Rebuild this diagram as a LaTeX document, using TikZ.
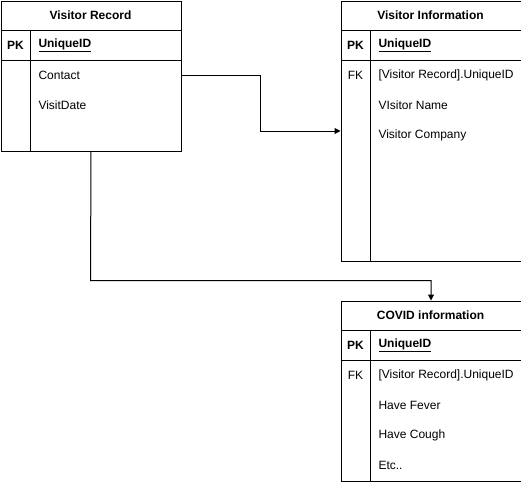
\documentclass[tikz,border=0pt]{standalone}
\usepackage{fontspec}
\setmainfont{Liberation Sans}
\usetikzlibrary{arrows.meta}
\begin{document}
\begin{tikzpicture}[x=1pt,y=-1pt,line width=1pt,
  tbl/.style={draw,rectangle,minimum width=180pt,inner sep=0pt,anchor=north west},
  txt/.style={font=\fontsize{12}{14}\selectfont,anchor=west,inner sep=0pt},
  hdr/.style={font=\bfseries\fontsize{12}{14}\selectfont,inner sep=0pt},
  arr/.style={-{Triangle[length=6pt,width=6pt]},line width=1pt}]
\useasboundingbox (0,0) rectangle (521,482);
% Visitor Record
\node[tbl,minimum height=150pt] (vr) at (0.5,0.5) {};
\draw (0.5,30.5) -- (180.5,30.5);
\draw (0.5,60.5) -- (180.5,60.5);
\draw (30.5,30.5) -- (30.5,150.5);
\node[hdr] (vrh) at (90.5,15.5) {Visitor Record};
\node[hdr] (vrpk) at (15.5,45.5) {PK};
\node[txt,font=\bfseries\fontsize{12}{14}\selectfont] (vrid) at (38,45.5) {\underline{UniqueID}};
\node[txt] (vrc) at (38,75.5) {Contact};
\node[txt] (vrd) at (38,105.5) {VisitDate};
% Visitor Information
\node[tbl,minimum height=260pt] (vi) at (340.5,0.5) {};
\draw (340.5,30.5) -- (520.5,30.5);
\draw (340.5,60.5) -- (520.5,60.5);
\draw (370.5,30.5) -- (370.5,260.5);
\node[hdr] (vih) at (430.5,15.5) {Visitor Information};
\node[hdr] (vipk) at (355.5,45.5) {PK};
\node[txt,font=\bfseries\fontsize{12}{14}\selectfont] (viid) at (378,45.5) {\underline{UniqueID}};
\node[hdr,font=\fontsize{12}{14}\selectfont] (vifk) at (355.5,75.5) {FK};
\node[txt] (vi1) at (378,75.5) {[Visitor Record].UniqueID};
\node[txt] (vi2) at (378,105.5) {VIsitor Name};
\node[txt] (vi3) at (378,135.5) {Visitor Company};
% COVID information
\node[tbl,minimum height=180pt] (ci) at (340.5,300.5) {};
\draw (340.5,330.5) -- (520.5,330.5);
\draw (340.5,360.5) -- (520.5,360.5);
\draw (370.5,330.5) -- (370.5,480.5);
\node[hdr] (cih) at (430.5,315.5) {COVID information};
\node[hdr] (cipk) at (355.5,345.5) {PK};
\node[txt,font=\bfseries\fontsize{12}{14}\selectfont] (ciid) at (378,345.5) {\underline{UniqueID}};
\node[hdr,font=\fontsize{12}{14}\selectfont] (cifk) at (355.5,375.5) {FK};
\node[txt] (ci1) at (378,375.5) {[Visitor Record].UniqueID};
\node[txt] (ci2) at (378,405.5) {Have Fever};
\node[txt] (ci3) at (378,435.5) {Have Cough};
\node[txt] (ci4) at (378,465.5) {Etc..};
% connectors
\draw[arr] (vr.east |- vrc.west) -- (260.5,75.5) |- (vi.west);
\draw[arr] (vr.south) -- (90.5,280.5) -| (ci.north);
\end{tikzpicture}
\end{document}
